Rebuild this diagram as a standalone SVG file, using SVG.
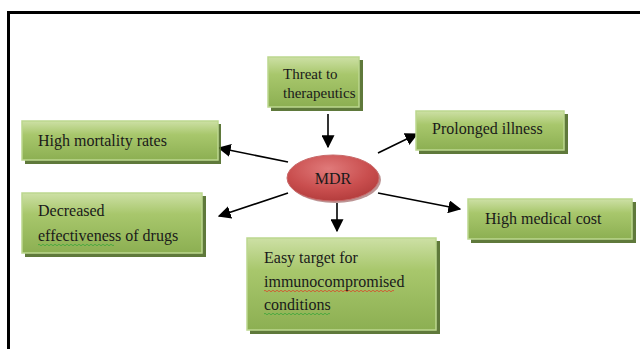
<svg xmlns="http://www.w3.org/2000/svg" width="640" height="349" viewBox="0 0 640 349">
<defs>
<linearGradient id="g" x1="0" y1="0" x2="0" y2="1">
<stop offset="0" stop-color="#cde0a5"/>
<stop offset="0.35" stop-color="#a8c76c"/>
<stop offset="1" stop-color="#8caf52"/>
</linearGradient>
<radialGradient id="r" cx="0.45" cy="0.3" r="0.75">
<stop offset="0" stop-color="#e07a7a"/>
<stop offset="0.6" stop-color="#c94e4e"/>
<stop offset="1" stop-color="#b03a3a"/>
</radialGradient>
<marker id="a2" viewBox="0 0 10 10" refX="9" refY="5" markerWidth="13" markerHeight="13" orient="auto" markerUnits="userSpaceOnUse">
<path d="M0,0 L10,5 L0,10 z" fill="#000"/>
</marker>
</defs>
<style>
.sh{fill:#4e6a26;opacity:0.9}
.bx{fill:url(#g);stroke:#bcd78f;stroke-width:1.5}
.t{font-family:"Liberation Serif",serif;font-size:16px;fill:#1a1a1a}
.c{stroke:#000;stroke-width:1.6;fill:none;marker-end:url(#a2)}
.wr{fill:none;stroke:#d9482a;stroke-width:0.8}
.wg{fill:none;stroke:#3aa63a;stroke-width:0.8}
</style>
<rect x="0" y="0" width="640" height="349" fill="#fff"/>
<path d="M8.5,349 L8.5,12.5 L640,12.5" fill="none" stroke="#000" stroke-width="3"/>

<g id="connectors">
<line class="c" x1="328" y1="114" x2="328" y2="147"/>
<line class="c" x1="288" y1="162" x2="219" y2="148"/>
<line class="c" x1="288" y1="193" x2="219" y2="216"/>
<line class="c" x1="378" y1="153" x2="417" y2="134"/>
<line class="c" x1="378" y1="193" x2="460" y2="209"/>
<line class="c" x1="337" y1="203" x2="337" y2="231"/>
</g>

<g id="threat">
<rect class="sh" x="271" y="60" width="92" height="51"/>
<rect class="bx" x="268" y="57" width="91" height="50"/>
<text class="t" x="283" y="79" style="font-size:15px">Threat to</text>
<text class="t" x="283" y="98" style="font-size:15px">therapeutics</text>
</g>

<g id="mortality">
<rect class="sh" x="25" y="124" width="196" height="40"/>
<rect class="bx" x="22" y="121" width="196" height="39"/>
<text class="t" x="38" y="146">High mortality rates</text>
</g>

<g id="decreased">
<rect class="sh" x="25" y="196" width="181" height="61"/>
<rect class="bx" x="22" y="193" width="180" height="60"/>
<text class="t" x="38" y="216">Decreased</text>
<text class="t" x="38" y="241">effectiveness of drugs</text>
<path class="wg" d="M38,245 q1,-1.5 2,0 t2,0 t2,0 t2,0 t2,0 t2,0 t2,0 t2,0 t2,0 t2,0 t2,0 t2,0 t2,0 t2,0 t2,0 t2,0 t2,0 t2,0 t2,0 t2,0 t2,0 t2,0 t2,0 t2,0 t2,0 t2,0 t2,0 t2,0 t2,0 t2,0 t2,0 t2,0 t2,0 t2,0 t2,0 t2,0 t2,0 t2,0"/>
</g>

<g id="mdr">
<ellipse cx="335" cy="180" rx="46" ry="23" fill="#7a2a2a" opacity="0.5"/>
<ellipse cx="333" cy="178" rx="46" ry="23" fill="url(#r)" stroke="#c86a6a" stroke-width="1"/>
<text class="t" x="333" y="184" text-anchor="middle">MDR</text>
</g>

<g id="prolonged">
<rect class="sh" x="419" y="114" width="149" height="40"/>
<rect class="bx" x="416" y="111" width="148" height="39"/>
<text class="t" x="432" y="134">Prolonged illness</text>
</g>

<g id="cost">
<rect class="sh" x="471" y="202" width="165" height="41"/>
<rect class="bx" x="468" y="199" width="164" height="40"/>
<text class="t" x="485" y="224">High medical cost</text>
</g>

<g id="easy">
<rect class="sh" x="250" y="241" width="190" height="93"/>
<rect class="bx" x="247" y="238" width="189" height="92"/>
<text class="t" x="264" y="263">Easy target for</text>
<text class="t" x="264" y="287">immunocompromised</text>
<text class="t" x="264" y="310">conditions</text>
<path class="wr" d="M264,291 q1,-1.5 2,0 t2,0 t2,0 t2,0 t2,0 t2,0 t2,0 t2,0 t2,0 t2,0 t2,0 t2,0 t2,0 t2,0 t2,0 t2,0 t2,0 t2,0 t2,0 t2,0 t2,0 t2,0 t2,0 t2,0 t2,0 t2,0 t2,0 t2,0 t2,0 t2,0 t2,0 t2,0 t2,0 t2,0 t2,0 t2,0 t2,0 t2,0 t2,0 t2,0 t2,0 t2,0 t2,0 t2,0 t2,0 t2,0 t2,0 t2,0 t2,0 t2,0 t2,0 t2,0 t2,0 t2,0 t2,0 t2,0 t2,0 t2,0 t2,0 t2,0 t2,0 t2,0 t2,0 t2,0 t2,0"/>
<path class="wg" d="M264,314 q1,-1.5 2,0 t2,0 t2,0 t2,0 t2,0 t2,0 t2,0 t2,0 t2,0 t2,0 t2,0 t2,0 t2,0 t2,0 t2,0 t2,0 t2,0 t2,0 t2,0 t2,0 t2,0 t2,0 t2,0 t2,0 t2,0 t2,0 t2,0 t2,0 t2,0 t2,0 t2,0 t2,0 t2,0"/>
</g>
</svg>
